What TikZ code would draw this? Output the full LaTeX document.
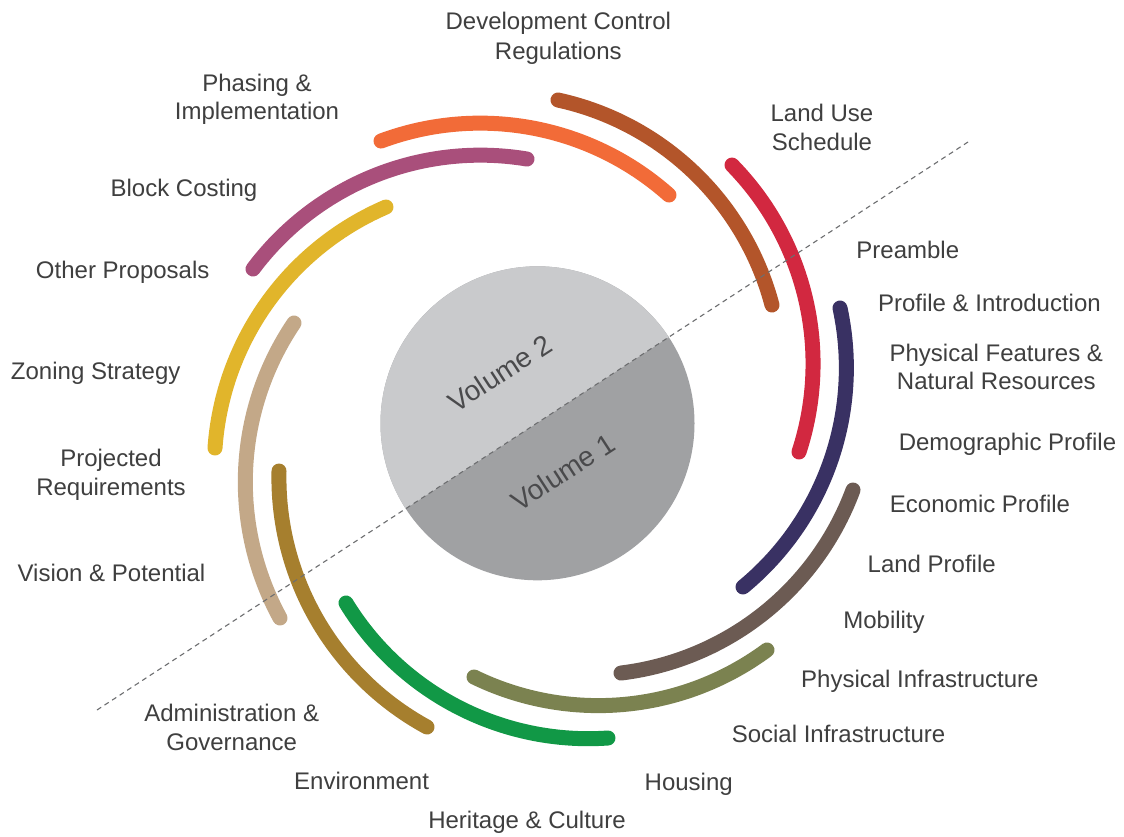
\documentclass[tikz,border=0pt]{standalone}
\usepackage{fontspec}
\setmainfont{Liberation Sans}
\definecolor{cOrange}{HTML}{F26B38}
\definecolor{cBrown}{HTML}{B3552A}
\definecolor{cRed}{HTML}{D22840}
\definecolor{cNavy}{HTML}{393163}
\definecolor{cTaupe}{HTML}{6C5B53}
\definecolor{cOlive}{HTML}{7B8250}
\definecolor{cGreen}{HTML}{119846}
\definecolor{cGold}{HTML}{A67F2E}
\definecolor{cTan}{HTML}{C3A888}
\definecolor{cYellow}{HTML}{E1B52B}
\definecolor{cMagenta}{HTML}{A94F7B}
\definecolor{volLight}{HTML}{C9CACC}
\definecolor{volDark}{HTML}{A0A1A3}
\definecolor{labelgray}{HTML}{3F3F3F}
\definecolor{volgray}{HTML}{4A4A4C}
\definecolor{linegray}{HTML}{6D6E70}
\def\spR{2.84}
\newcommand{\SpArc}[5]{%
  \pgfmathsetmacro\spXa{#2/100}%
  \pgfmathsetmacro\spYa{#3/100}%
  \pgfmathsetmacro\spXc{#4/100}%
  \pgfmathsetmacro\spYc{#5/100}%
  \pgfmathsetmacro\spL{veclen(\spXc-\spXa,\spYc-\spYa)}%
  \pgfmathsetmacro\spUx{(\spXc-\spXa)/\spL}%
  \pgfmathsetmacro\spUy{(\spYc-\spYa)/\spL}%
  \pgfmathsetmacro\spD{sqrt(\spR*\spR-\spL*\spL/4)}%
  \pgfmathsetmacro\spCx{(\spXa+\spXc)/2-\spD*\spUy}%
  \pgfmathsetmacro\spCy{(\spYa+\spYc)/2+\spD*\spUx}%
  \pgfmathsetmacro\spAa{atan2(\spYa-\spCy,\spXa-\spCx)}%
  \pgfmathsetmacro\spAc{atan2(\spYc-\spCy,\spXc-\spCx)}%
  \pgfmathsetmacro\spAe{\spAa+mod(\spAc-\spAa+720,360)}%
  \draw[arcstroke,draw=#1] plot[domain=\spAa:\spAe,samples=90,variable=\t]
    ({100*(\spCx+\spR*cos(\t))},{100*(\spCy+\spR*sin(\t))});%
}
\tikzset{
  lbl/.style={font=\fontsize{24}{29}\selectfont, text=labelgray, anchor=base, inner sep=0pt},
  vol/.style={font=\fontsize{28}{34}\selectfont, text=volgray, rotate=33, inner sep=0pt},
  arcstroke/.style={line width=15pt, line cap=round},
  divider/.style={draw=linegray, line width=1.1pt, dash pattern=on 5pt off 4pt}
}
\begin{document}
\begin{tikzpicture}[x=1pt,y=-1pt]
\useasboundingbox (0,0) rectangle (1124,836);
\fill[white] (0,0) rectangle (1124,836);
\coordinate (c) at (537.5,423.3);
\coordinate (dl) at (97,710);
\coordinate (dr) at (968,142);
% central circle
\fill[volDark] (c) circle[radius=157];
\begin{scope}
  \clip (dl) -- (dr) -- (968,-50) -- (97,-50) -- cycle;
  \fill[volLight] (c) circle[radius=157];
\end{scope}
\node[vol] (v2) at (500,373) {Volume 2};
\node[vol] (v1) at (563,472) {Volume 1};
% arcs
\SpArc{cOrange}{381}{141}{669}{195}
\SpArc{cBrown}{558}{100}{772}{305}
\SpArc{cRed}{732}{165}{799}{452}
\SpArc{cNavy}{840}{308}{743}{587}
\SpArc{cTaupe}{853}{490}{621}{673}
\SpArc{cOlive}{767}{650}{474}{677}
\SpArc{cGreen}{608}{738}{346}{603}
\SpArc{cGold}{427}{727}{279}{471}
\SpArc{cTan}{280}{618}{294}{323}
\SpArc{cYellow}{215}{448}{386}{207}
\SpArc{cMagenta}{253}{269}{527}{159}
% divider
\draw[divider] (dl) -- (dr);
% labels
\node[lbl] (dcr1) at (558.3,29.7) {Development Control};
\node[lbl] (dcr2) at (558.3,59.2) {Regulations};
\node[lbl] (lus1) at (822,121.3) {Land Use};
\node[lbl] (lus2) at (822,150.8) {Schedule};
\node[lbl] (pi1) at (257,91.3) {Phasing \&};
\node[lbl] (pi2) at (257,119.7) {Implementation};
\node[lbl] (bc) at (184,196.3) {Block Costing};
\node[lbl] (op) at (122.7,278.3) {Other Proposals};
\node[lbl] (zs) at (95.7,379.3) {Zoning Strategy};
\node[lbl] (pr1) at (111,466) {Projected};
\node[lbl] (pr2) at (111,495.3) {Requirements};
\node[lbl] (vp) at (111.5,581.3) {Vision \& Potential};
\node[lbl] (ag1) at (231.7,721) {Administration \&};
\node[lbl] (ag2) at (231.7,750) {Governance};
\node[lbl] (env) at (361.6,789.3) {Environment};
\node[lbl] (hc) at (527,828.3) {Heritage \& Culture};
\node[lbl] (hou) at (688.7,790) {Housing};
\node[lbl] (si) at (838.5,742.7) {Social Infrastructure};
\node[lbl] (phi) at (919.9,687.7) {Physical Infrastructure};
\node[lbl] (mob) at (884,628.3) {Mobility};
\node[lbl] (lp) at (931.7,572.7) {Land Profile};
\node[lbl] (ep) at (980,512) {Economic Profile};
\node[lbl] (dp) at (1007.5,450) {Demographic Profile};
\node[lbl] (pf1) at (996.3,361.3) {Physical Features \&};
\node[lbl] (pf2) at (996.3,389.7) {Natural Resources};
\node[lbl] (pin) at (989.4,311.3) {Profile \& Introduction};
\node[lbl] (pre) at (907.8,258) {Preamble};
\end{tikzpicture}
\end{document}
